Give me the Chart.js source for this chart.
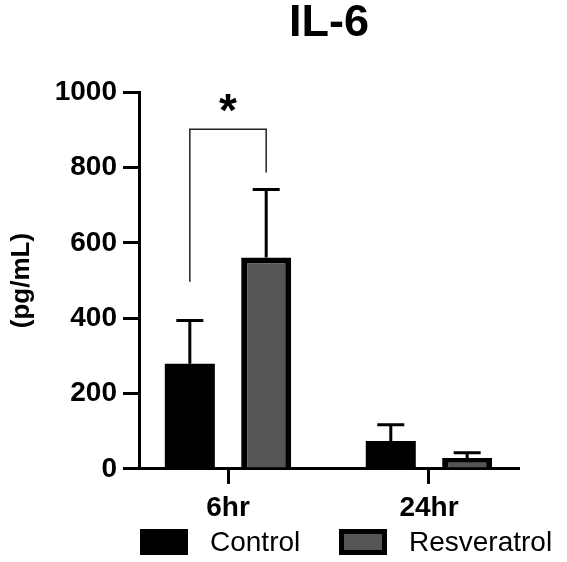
<!DOCTYPE html>
<html>
<head>
<meta charset="utf-8">
<script src="https://cdn.jsdelivr.net/npm/chart.js@4.4.1/dist/chart.umd.min.js"></script>
<style>
    html, body { margin: 0; padding: 0; background: #fff; }
    #wrap { position: relative; width: 567px; height: 562px; }
    #legend { position: absolute; left: 0; top: 0; width: 567px; height: 562px; pointer-events: none; font-family: "Liberation Sans", Arial, sans-serif; }
    .lg-box { position: absolute; box-sizing: border-box; }
    .lg-text { position: absolute; font-size: 28px; line-height: 28px; color: #000; white-space: nowrap; }
</style>
</head>
<body>
<div id="wrap">
    <canvas id="grafico" width="567" height="562"></canvas>
    <div id="legend"></div>
</div>
<script>
const categories = ['6hr', '24hr'];
const seriesNames = ['Control', 'Resveratrol'];
const controlMean = [279, 74];
const controlSD = [115, 43];
const resveratrolMean = [561, 29];
const resveratrolSD = [181, 14];
const yTicks = [0, 200, 400, 600, 800, 1000];
// significance bracket for the 6hr group (y values of the legs and the top)
const sigGroup = 0;
const sigLeftEnd = 497;
const sigRightEnd = 787;
const sigTop = 902;
const sigLabel = '*';

const fuente = '"Liberation Sans", Arial, sans-serif';

const errorBars = {
    id: 'errorBars',
    afterDatasetsDraw(chart) {
        const ctx = chart.ctx;
        const y = chart.scales.y;
        const sds = [controlSD, resveratrolSD];
        ctx.save();
        ctx.strokeStyle = '#000';
        ctx.lineWidth = 3;
        chart.data.datasets.forEach((ds, d) => {
            const meta = chart.getDatasetMeta(d);
            meta.data.forEach((bar, i) => {
                const top = y.getPixelForValue(ds.data[i].y + sds[d][i]);
                ctx.beginPath();
                ctx.moveTo(bar.x, bar.y);
                ctx.lineTo(bar.x, top);
                ctx.moveTo(bar.x - 13.5, top);
                ctx.lineTo(bar.x + 13.5, top);
                ctx.stroke();
            });
        });

        // bracket
        const xl = chart.getDatasetMeta(0).data[sigGroup].x;
        const xr = chart.getDatasetMeta(1).data[sigGroup].x;
        const yt = y.getPixelForValue(sigTop);
        ctx.lineWidth = 1.5;
        ctx.strokeStyle = '#222';
        ctx.beginPath();
        ctx.moveTo(xl, y.getPixelForValue(sigLeftEnd));
        ctx.lineTo(xl, yt);
        ctx.lineTo(xr, yt);
        ctx.lineTo(xr, y.getPixelForValue(sigRightEnd));
        ctx.stroke();

        ctx.fillStyle = '#000';
        ctx.font = 'bold 46px ' + fuente;
        ctx.textAlign = 'center';
        ctx.textBaseline = 'alphabetic';
        ctx.fillText(sigLabel, (xl + xr) / 2, yt - 3);
        ctx.restore();
    }
};

const dataConfig = {
    datasets: [
        {
            label: seriesNames[0],
            data: categories.map((c, i) => ({ x: i, y: controlMean[i] })),
            backgroundColor: '#000',
            borderColor: '#000',
            borderWidth: 0
        },
        {
            label: seriesNames[1],
            data: categories.map((c, i) => ({ x: i, y: resveratrolMean[i] })),
            backgroundColor: '#555555',
            borderColor: '#000',
            borderWidth: 6
        }
    ]
};

const config = {
    type: 'bar',
    data: dataConfig,
    plugins: [errorBars],
    options: {
        responsive: false,
        animation: false,
        categoryPercentage: 0.76,
        barPercentage: 0.655,
        layout: { padding: { left: 0, right: 49, top: 0, bottom: 28.5 } },
        plugins: {
            legend: { display: false },
            tooltip: { enabled: false },
            title: {
                display: true,
                text: 'IL-6',
                fullSize: false,
                color: '#000',
                font: { family: fuente, size: 45, weight: 'bold', lineHeight: 1.05 },
                padding: { top: 0, bottom: 45 }
            }
        },
        scales: {
            x: {
                type: 'linear',
                min: -0.438,
                max: 1.443,
                offset: false,
                afterBuildTicks: (scale) => {
                    scale.ticks = categories.map((c, i) => ({ value: i }));
                },
                ticks: {
                    color: '#000',
                    padding: 8,
                    font: { family: fuente, size: 28, weight: 'bold' },
                    callback: (v) => categories[v]
                },
                grid: { offset: false, drawOnChartArea: false, color: '#000', lineWidth: 3, tickLength: 15 },
                border: { color: '#000', width: 3 }
            },
            y: {
                min: 0,
                max: 1000,
                afterBuildTicks: (scale) => {
                    scale.ticks = yTicks.map(v => ({ value: v }));
                },
                ticks: {
                    color: '#000',
                    padding: 6,
                    font: { family: fuente, size: 28, weight: 'bold' },
                    callback: (v) => String(v)
                },
                grid: { drawOnChartArea: false, color: '#000', lineWidth: 3, tickLength: 17 },
                border: { color: '#000', width: 3 },
                title: {
                    display: true,
                    text: '(pg/mL)',
                    color: '#000',
                    font: { family: fuente, size: 26, weight: 'bold' },
                    padding: { top: 6, bottom: 11.5 }
                }
            }
        }
    }
};

const grafico = new Chart(document.getElementById('grafico'), config);

// legend below the axis, built from the datasets
const legend = document.getElementById('legend');
const area = grafico.chartArea;
const lgTop = 529;
let lx = area.left;
dataConfig.datasets.forEach((ds, i) => {
    const box = document.createElement('div');
    box.className = 'lg-box';
    box.style.left = lx + 'px';
    box.style.top = lgTop + 'px';
    box.style.width = '48px';
    box.style.height = '26px';
    box.style.background = ds.backgroundColor;
    box.style.border = '5px solid ' + ds.borderColor;
    legend.appendChild(box);
    const txt = document.createElement('div');
    txt.className = 'lg-text';
    txt.textContent = ds.label;
    txt.style.left = (lx + 70) + 'px';
    txt.style.top = (lgTop - 1) + 'px';
    legend.appendChild(txt);
    lx += 199;
});
</script>
</body>
</html>
